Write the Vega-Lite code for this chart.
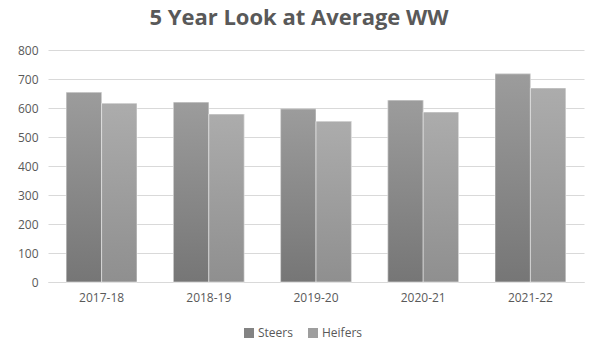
{
  "$schema": "https://vega.github.io/schema/vega-lite/v6.json",
  "width": 536,
  "height": 232,
  "autosize": {"type": "none"},
  "padding": {"left": 48, "top": 50, "right": 16, "bottom": 78},
  "background": "white",
  "title": {
    "text": "5 Year Look at Average WW",
    "font": "Open Sans",
    "fontSize": 22,
    "fontWeight": "bold",
    "color": "#595959",
    "anchor": "middle",
    "dx": -17,
    "offset": 14
  },
  "data": {
    "values": [
      {"year": "2017-18", "sex": "Steers", "ww": 654},
      {"year": "2017-18", "sex": "Heifers", "ww": 616},
      {"year": "2018-19", "sex": "Steers", "ww": 620},
      {"year": "2018-19", "sex": "Heifers", "ww": 579},
      {"year": "2019-20", "sex": "Steers", "ww": 597},
      {"year": "2019-20", "sex": "Heifers", "ww": 554},
      {"year": "2020-21", "sex": "Steers", "ww": 627},
      {"year": "2020-21", "sex": "Heifers", "ww": 586},
      {"year": "2021-22", "sex": "Steers", "ww": 718},
      {"year": "2021-22", "sex": "Heifers", "ww": 669}
    ]
  },
  "encoding": {
    "x": {
      "field": "year",
      "type": "nominal",
      "scale": {"paddingInner": 0.34, "paddingOuter": 0.17},
      "axis": {
        "title": null,
        "labelAngle": 0,
        "labelFont": "Open Sans",
        "labelFontSize": 12,
        "labelColor": "#595959",
        "ticks": false,
        "domainColor": "#d9d9d9",
        "labelPadding": 10
      }
    },
    "xOffset": {"field": "sex", "type": "nominal", "sort": ["Steers", "Heifers"], "scale": {"domain": ["Steers", "Heifers"], "paddingInner": 0}},
    "y": {
      "field": "ww",
      "type": "quantitative",
      "scale": {"domain": [0, 800]},
      "axis": {
        "title": null,
        "values": [0, 100, 200, 300, 400, 500, 600, 700, 800],
        "labelOverlap": false,
        "labelFont": "Open Sans",
        "labelFontSize": 12,
        "labelColor": "#595959",
        "ticks": false,
        "domain": false,
        "gridColor": "#d9d9d9",
        "labelPadding": 10
      }
    }
  },
  "layer": [
    {
      "mark": {"type": "bar"},
      "encoding": {
        "color": {
          "field": "sex",
          "type": "nominal",
          "sort": ["Steers", "Heifers"],
          "scale": {"domain": ["Steers", "Heifers"], "range": ["#838383", "#9e9e9e"]},
          "legend": {
            "title": null,
            "orient": "none",
            "direction": "horizontal",
            "legendX": 195,
            "legendY": 277,
            "symbolType": "square",
            "symbolSize": 100,
            "symbolStrokeWidth": 0,
            "labelFont": "Open Sans",
            "labelFontSize": 12,
            "labelColor": "#595959",
            "labelOffset": 3,
            "columnPadding": 14
          }
        }
      }
    },
    {
      "transform": [{"filter": "datum.sex === 'Steers'"}],
      "mark": {
        "type": "bar",
        "stroke": "white",
        "strokeWidth": 0.5,
        "color": {
          "gradient": "linear", "x1": 0, "y1": 0, "x2": 0, "y2": 1,
          "stops": [{"offset": 0, "color": "#9c9c9c"}, {"offset": 1, "color": "#767676"}]
        }
      }
    },
    {
      "transform": [{"filter": "datum.sex === 'Heifers'"}],
      "mark": {
        "type": "bar",
        "stroke": "white",
        "strokeWidth": 0.5,
        "color": {
          "gradient": "linear", "x1": 0, "y1": 0, "x2": 0, "y2": 1,
          "stops": [{"offset": 0, "color": "#acacac"}, {"offset": 1, "color": "#8f8f8f"}]
        }
      }
    }
  ],
  "config": {"view": {"stroke": null}}
}
